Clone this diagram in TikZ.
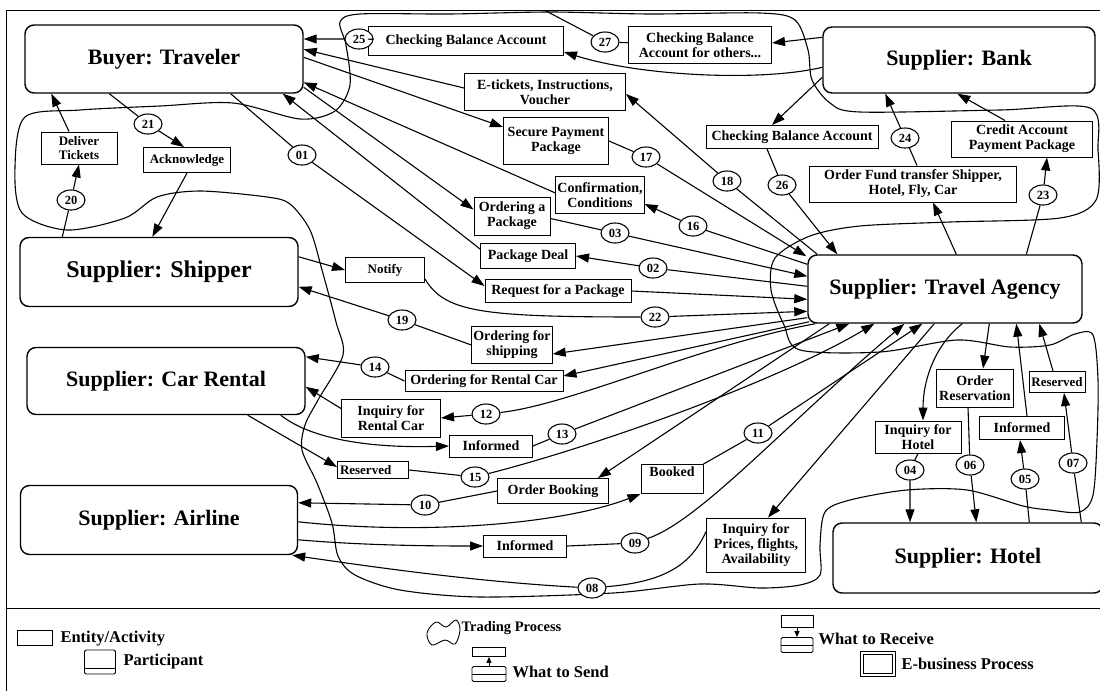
\documentclass[tikz,border=0pt]{standalone}
\usepackage{fontspec}
\setmainfont{Liberation Serif}
\usetikzlibrary{arrows.meta,shapes.geometric,calc,backgrounds}

\begin{document}
\begin{tikzpicture}[x=1pt,y=-1pt,
  line width=1.1pt,
  sz/.style 2 args={minimum width=#1pt,minimum height=#2pt},
  party/.style={draw, rounded corners=9pt, line width=1.4pt, fill=white, inner sep=0pt,
    font=\fontsize{22}{24}\selectfont\bfseries},
  act/.style={draw, line width=1pt, fill=white, align=center, inner sep=1.5pt,
    font=\fontsize{14}{15}\selectfont\bfseries},
  small/.style={font=\fontsize{13}{14}\selectfont\bfseries},
  num/.style={draw, ellipse, line width=1.1pt, fill=white, minimum width=28pt,
    minimum height=20pt, inner sep=0pt, font=\fontsize{12.5}{13}\selectfont\bfseries},
  arr/.style={-{Triangle[length=13pt,width=9pt]}},
  legtxt/.style={anchor=west, inner sep=0pt, font=\fontsize{16.5}{17}\selectfont\bfseries},
  legarr/.style={-{Triangle[length=6pt,width=5pt]}, line width=0.9pt},
]
\useasboundingbox (0,0) rectangle (1100,691);

% frame and legend separator
\draw[line width=1pt] (6,10) -- (1100,10);
\draw[line width=1pt] (6,10) -- (6,691);
\draw[line width=1pt] (6,608) -- (1100,608);

% participants
\node[party, sz={278}{68}] (buyer)   at (164,59)  {Buyer: Traveler};
\node[party, sz={272}{66}] (bank)    at (959,60)  {Supplier: Bank};
\node[party, sz={278}{69}, font=\fontsize{24}{26}\selectfont\bfseries] (shipper) at (159,272) {Supplier: Shipper};
\node[party, sz={278}{67}] (car)     at (166,381) {Supplier: Car Rental};
\node[party, sz={277}{69}] (airline) at (159,520) {Supplier: Airline};
\node[party, sz={274}{68}] (agency)  at (945,289) {Supplier: Travel Agency};
\node[party, sz={270}{70}] (hotel)   at (968,558) {Supplier: Hotel};

% activities
\node[act, sz={195}{29}] (cbaTop)  at (466,41)  {Checking Balance Account};
\node[act, sz={143}{37}] (others)  at (700,45)  {Checking Balance\\Account for others...};
\node[act, sz={161}{37}] (etix)    at (545,92)  {E-tickets, Instructions,\\Voucher};
\node[act, sz={105}{47}] (spp)     at (556,141) {Secure Payment\\Package};
\node[act, sz={85}{37}]  (conf)    at (600,195) {Confirmation,\\Conditions};
\node[act, sz={76}{38}]  (oap)     at (512,216) {Ordering a\\Package};
\node[act, sz={95}{25}]  (pdeal)   at (528,256) {Package Deal};
\node[act, sz={146}{23}] (req)     at (558,291) {Request for a Package};
\node[act, small, sz={79}{25}]  (notify)  at (385,270) {Notify};
\node[act, sz={75}{37}]  (ofs)     at (512,345) {Ordering for\\shipping};
\node[act, sz={158}{21}] (ofrc)    at (484,381) {Ordering for Rental Car};
\node[act, sz={99}{38}]  (irc)     at (391,418) {Inquiry for\\Rental Car};
\node[act, sz={83}{22}]  (infcar)  at (491,446) {Informed};
\node[act, small, sz={71}{17}, align=left, text width=66pt] (rescar) at (373,470) {Reserved};
\node[act, sz={62}{29}, text depth=14pt] (booked) at (672,479) {Booked};
\node[act, sz={111}{25}] (obook)   at (553,491) {Order Booking};
\node[act, sz={83}{22}]  (infair)  at (525,546) {Informed};
\node[act, sz={99}{54}]  (iprice)  at (756,545) {Inquiry for\\Prices, flights,\\Availability};
\node[act, sz={86}{32}]  (ihotel)  at (918,437) {Inquiry for\\Hotel};
\node[act, sz={77}{38}]  (ores)    at (975,388) {Order\\Reservation};
\node[act, sz={85}{23}]  (infhot)  at (1022,428) {Informed};
\node[act, small, sz={56}{21}]  (reshot)  at (1057,382) {Reserved};
\node[act, sz={172}{23}] (cbaBank) at (792,137) {Checking Balance Account};
\node[act, sz={207}{36}] (ofund)   at (913,184) {Order Fund transfer Shipper,\\Hotel, Fly, Car};
\node[act, sz={141}{36}] (credit)  at (1022,139) {Credit Account\\Payment Package};
\node[act, small, sz={76}{32}]  (dtix)    at (79,148)  {Deliver\\Tickets};
\node[act, small, sz={87}{25}]  (ack)     at (187,160) {Acknowledge};

% step numbers
\node[num] (c01) at (302,155) {01};
\node[num] (c02) at (653,268) {02};
\node[num] (c03) at (615,233) {03};
\node[num] (c04) at (910,470) {04};
\node[num] (c05) at (1025,479) {05};
\node[num] (c06) at (970,465) {06};
\node[num] (c07) at (1073,463) {07};
\node[num] (c08) at (592,588) {08};
\node[num] (c09) at (635,543) {09};
\node[num] (c10) at (425,505) {10};
\node[num] (c11) at (758,433) {11};
\node[num] (c12) at (486,414) {12};
\node[num] (c13) at (562,434) {13};
\node[num] (c14) at (375,367) {14};
\node[num] (c15) at (475,477) {15};
\node[num] (c16) at (693,226) {16};
\node[num] (c17) at (646,157) {17};
\node[num] (c18) at (727,181) {18};
\node[num] (c19) at (402,320) {19};
\node[num] (c20) at (71,200)  {20};
\node[num] (c21) at (148,124) {21};
\node[num] (c22) at (655,317) {22};
\node[num] (c23) at (1043,195) {23};
\node[num] (c24) at (905,138) {24};
\node[num] (c25) at (359,39)  {25};
\node[num] (c26) at (782,185) {26};
\node[num] (c27) at (605,42)  {27};
\coordinate (c27top) at (546,11);

% trading process outline
\begin{scope}[on background layer]
\draw[line width=1.1pt] plot[smooth cycle, tension=0.5] coordinates {
  (25,117) (80,110) (160,106) (233,103) (300,119) (335,111) (350,85) (346,45)
  (340,22) (360,14) (450,14) (550,12) (650,14) (760,13) (795,20) (808,50)
  (812,80) (830,103) (860,112) (1000,110) (1090,108) (1098,150) (1096,200)
  (1060,218) (950,222) (860,226) (810,236) (775,258) (771,290) (784,325)
  (800,350) (880,352) (957,340) (1010,347) (1050,345) (1075,334) (1093,335)
  (1098,380) (1097,440) (1093,495) (1080,512) (1050,510) (1023,506) (967,490)
  (907,490) (850,500) (825,512) (820,545) (820,575) (800,585) (760,588)
  (700,584) (613,593) (480,597) (400,590) (355,575) (338,556) (332,523)
  (317,483) (302,450) (305,425) (318,400) (343,355) (336,322) (322,270)
  (310,230) (290,204) (267,197) (200,191) (157,197) (125,218) (67,230)
  (22,213) (15,167)};
\end{scope}

% buyer <-> agency / bank
\draw[arr] (cbaTop) -- (c25) -- (buyer.east |- c25);
\draw[arr] ($(bank.north west)+(0,41)$) .. controls (760,82) and (640,76) .. ($(cbaTop.east)+(0,11)$);
\draw[arr] ($(bank.north west)+(0,11)$) -- ($(others.east)+(0,-2)$);
\draw (others) -- (c27) -- (c27top);
\draw[arr] ($(etix.west)+(0,-4)$) -- ($(buyer.north east)+(0,25)$);
\draw[arr] ($(buyer.north east)+(0,33)$) -- ($(spp.north west)+(0,10)$);
\draw[arr] (spp.east) -- (c17) -- ($(agency.north west)+(-1,2)$);
\draw[arr] ($(agency.north west)+(10,0)$) -- (c18) -- ($(etix.south east)+(0,-17)$);
\draw[arr] ($(agency.north west)+(0,10)$) -- (c16) -- ($(conf.south east)+(0,-10)$);
\draw[arr] ($(conf.north west)+(0,17)$) -- ($(buyer.north east)+(0,58)$);
\draw[arr] ($(buyer.north east)+(0,63)$) -- ($(oap.north west)+(0,13)$);
\draw[arr] ($(oap.north east)+(0,22)$) -- (c03) -- ($(agency.north west)+(0,22)$);
\draw[arr] ($(agency.north west)+(0,32)$) -- (c02) -- (pdeal.east);
\draw[arr] ($(pdeal.north west)+(0,6)$) -- ($(buyer.south east)+(-21,0)$);
\draw[arr] ($(buyer.south east)+(-73,0)$) -- (c01) -- ($(req.north west)+(0,7)$);
\draw[arr] (req.east) -- ($(agency.north west)+(0,45)$);

% shipper
\draw[arr] ($(shipper.north east)+(0,20)$) -- (notify.west);
\draw[arr] ($(notify.south east)+(0,-4)$) .. controls (445,312) and (480,317) .. (c22)
  -- ($(agency.north west)+(0,57)$);
\draw[arr] ($(agency.south west)+(0,-6)$) -- ($(ofs.south east)+(0,-10)$);
\draw[arr] (ofs.west) -- (c19) -- ($(shipper.north east)+(0,50)$);

% car rental
\draw[arr] ($(agency.south west)+(2,-2)$) -- ($(ofrc.north east)+(0,6)$);
\draw[arr] (ofrc.west) -- (c14) -- ($(car.north east)+(0,10)$);
\draw[arr] ($(agency.south west)+(8,0)$) .. controls (700,345) and (570,405) .. (c12) -- (irc.east);
\draw[arr] ($(irc.north west)+(0,10)$) -- ($(car.north east)+(0,40)$);
\draw[arr] ($(car.south east)+(-25,0)$) .. controls (315,442) and (380,448) .. (infcar.west);
\draw[arr] (infcar.east) -- (c13) -- ($(agency.south west)+(42,0)$);
\draw[arr] ($(car.south east)+(-58,0)$) -- ($(rescar.west)+(0,-3)$);
\draw[arr] (rescar.east) -- (c15) .. controls (600,445) and (780,380) .. ($(agency.south west)+(67,0)$);

% airline
\draw[arr] ($(airline.north east)+(0,37)$) .. controls (420,535) and (560,525) .. (booked.south west);
\draw[arr] (booked.north east) -- (c11) -- ($(agency.south west)+(115,0)$);
\draw[arr] ($(agency.south west)+(22,0)$) -- ($(obook.north east)+(-11,0)$);
\draw[arr] (obook.west) -- (c10) -- ($(airline.north east)+(0,18)$);
\draw[arr] ($(airline.north east)+(0,55)$) .. controls (360,545) and (420,546) .. (infair.west);
\draw[arr] (infair.east) -- (c09) .. controls (700,520) and (780,430) .. ($(agency.south west)+(97,0)$);
\draw[arr] ($(agency.south west)+(127,0)$) -- ($(iprice.north)+(12,0)$);
\draw[arr] ($(iprice.north west)+(0,14)$) .. controls (690,568) and (660,582) .. (c08)
  .. controls (480,582) and (380,568) .. ($(airline.south east)+(-6,0)$);

% hotel
\draw[arr] ($(agency.south west)+(155,0)$) .. controls (935,345) and (923,380) .. ($(ihotel.north)+(5,0)$);
\draw[arr] (ihotel.south) -- (c04) -- (c04 |- hotel.north);
\draw[arr] ($(agency.south west)+(182,0)$) -- ($(ores.north)+(8,0)$);
\draw[arr] ($(ores.south)+(-7,0)$) -- (c06) -- ($(hotel.north west)+(144,0)$);
\draw[arr] ($(hotel.north west)+(197,0)$) -- (c05) -- ($(infhot.south)+(-2,0)$);
\draw[arr] ($(infhot.north)+(5,0)$) -- ($(agency.south west)+(209,0)$);
\draw[arr] ($(hotel.north west)+(249,0)$) -- (c07) -- ($(reshot.south)+(7,0)$);
\draw[arr] ($(reshot.north)+(-4,0)$) -- ($(agency.south west)+(232,0)$);

% bank
\draw[arr] ($(bank.north west)+(0,51)$) -- ($(cbaBank.north)+(-20,0)$);
\draw[arr] ($(cbaBank.south)+(-25,0)$) -- (c26) -- ($(agency.north west)+(30,0)$);
\draw[arr] ($(agency.north west)+(149,0)$) -- ($(ofund.south)+(20,0)$);
\draw[arr] ($(ofund.north)+(4,0)$) -- (c24) -- ($(bank.south west)+(63,0)$);
\draw[arr] ($(agency.north west)+(219,0)$) -- (c23) -- ($(credit.south)+(25,0)$);
\draw[arr] ($(credit.north)+(-17,0)$) -- ($(bank.south west)+(135,0)$);

% buyer <-> shipper
\draw[arr] ($(buyer.south west)+(85,0)$) -- (c21) -- ($(ack.north)+(-3,0)$);
\draw[arr] (ack.south) -- ($(shipper.north west)+(133,0)$);
\draw[arr] ($(shipper.north west)+(43,0)$) -- (c20) -- (dtix.south);
\draw[arr] ($(dtix.north)+(-10,0)$) -- ($(buyer.south west)+(27,0)$);

% legend
\node[draw, line width=0.9pt, sz={35}{15}, inner sep=0pt] (legEnt) at (35,638) {};
\node[legtxt] (legEntT) at (60,639) {Entity/Activity};
\node[draw, line width=0.9pt, rounded corners=2pt, sz={31}{24}, inner sep=0pt] (legPart) at (100,662) {};
\draw[line width=0.9pt] ($(legPart.south west)+(0,-6)$) -- ($(legPart.south east)+(0,-6)$);
\node[legtxt] (legPartT) at (123,662) {Participant};
\draw[line width=0.9pt] plot[smooth cycle, tension=0.6] coordinates {
  (427,633) (436,622) (446,627) (456,620) (460,630) (455,644) (445,640) (432,645)};
\node[legtxt, font=\fontsize{14.5}{15}\selectfont\bfseries] (legTrade) at (461,628) {Trading Process};
\node[draw, line width=0.9pt, sz={33}{9}, inner sep=0pt] (sendTop) at (489,652) {};
\node[draw, line width=0.9pt, rounded corners=1.5pt, sz={34}{15}, inner sep=0pt] (sendBot) at (489,674) {};
\draw[line width=0.9pt] (sendBot.west) -- (sendBot.east);
\draw[legarr] (sendBot.north) -- (sendTop.south);
\node[legtxt] (legSendT) at (512,672) {What to Send};
\node[draw, line width=0.9pt, sz={32}{12}, inner sep=0pt] (recTop) at (797,621) {};
\node[draw, line width=0.9pt, rounded corners=1.5pt, sz={32}{15}, inner sep=0pt] (recBot) at (797,645) {};
\draw[line width=0.9pt] (recBot.west) -- (recBot.east);
\draw[legarr] (recTop.south) -- (recBot.north);
\node[legtxt] (legRecT) at (818,639) {What to Receive};
\node[draw, line width=0.9pt, double, double distance=2.5pt, sz={32}{22}, inner sep=0pt] (legEB) at (878,664) {};
\node[legtxt] (legEBT) at (901,664) {E-business Process};
\end{tikzpicture}
\end{document}
